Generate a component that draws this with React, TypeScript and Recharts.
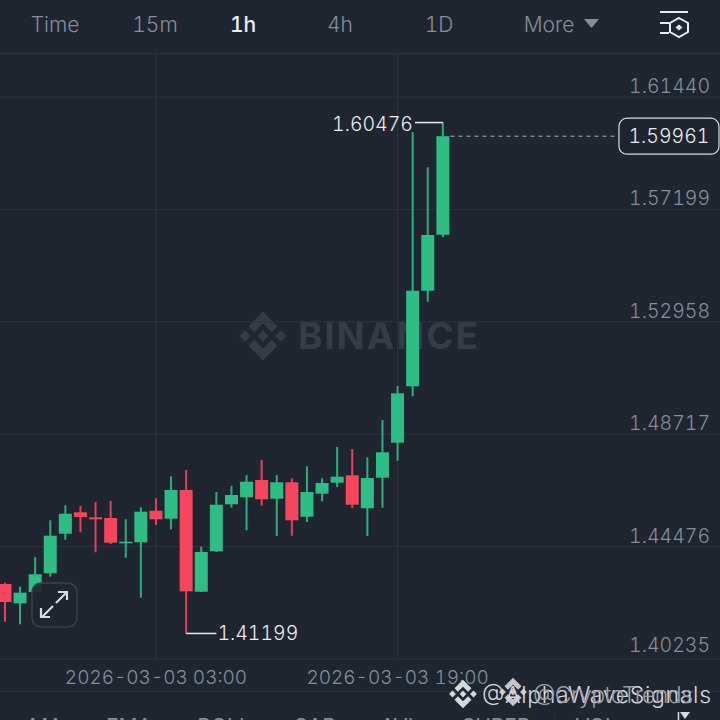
import { Bar, CartesianGrid, ComposedChart, ReferenceDot, ReferenceLine, XAxis, YAxis } from "recharts";

const times = [
  "2026-03-02 17:00", "2026-03-02 18:00", "2026-03-02 19:00", "2026-03-02 20:00", "2026-03-02 21:00",
  "2026-03-02 22:00", "2026-03-02 23:00", "2026-03-03 00:00", "2026-03-03 01:00", "2026-03-03 02:00",
  "2026-03-03 03:00", "2026-03-03 04:00", "2026-03-03 05:00", "2026-03-03 06:00", "2026-03-03 07:00",
  "2026-03-03 08:00", "2026-03-03 09:00", "2026-03-03 10:00", "2026-03-03 11:00", "2026-03-03 12:00",
  "2026-03-03 13:00", "2026-03-03 14:00", "2026-03-03 15:00", "2026-03-03 16:00", "2026-03-03 17:00",
  "2026-03-03 18:00", "2026-03-03 19:00", "2026-03-03 20:00", "2026-03-03 21:00", "2026-03-03 22:00",
];
const opens = [
  1.43065, 1.42337, 1.42763, 1.43469, 1.44963, 1.4577, 1.45581, 1.45555, 1.446, 1.44638,
  1.4583, 1.45529, 1.46612, 1.42774, 1.44299, 1.46072, 1.46336, 1.46989, 1.46283, 1.46902,
  1.45604, 1.46472, 1.46887, 1.47166, 1.45921, 1.47076, 1.48396, 1.50524, 1.54131, 1.56244,
];
const highs = [
  1.43114, 1.42963, 1.44072, 1.45468, 1.46034, 1.46008, 1.46159, 1.46197, 1.45506, 1.45959,
  1.46298, 1.47128, 1.47366, 1.44472, 1.46536, 1.46762, 1.47178, 1.47743, 1.47178, 1.47053,
  1.47506, 1.47053, 1.48234, 1.48159, 1.47845, 1.49253, 1.50536, 1.60119, 1.58787, 1.60476,
];
const lows = [
  1.41642, 1.41544, 1.42688, 1.4334, 1.44736, 1.45016, 1.44261, 1.44574, 1.44057, 1.42548,
  1.45291, 1.45129, 1.41199, 1.42763, 1.44272, 1.45944, 1.45091, 1.46019, 1.44876, 1.44887,
  1.45404, 1.46185, 1.46725, 1.45921, 1.44876, 1.45944, 1.47717, 1.50147, 1.53716, 1.56157,
];
const closes = [
  1.42386, 1.42737, 1.43431, 1.44887, 1.45717, 1.45593, 1.45506, 1.44623, 1.44661, 1.45793,
  1.45506, 1.46612, 1.42789, 1.44272, 1.46057, 1.46423, 1.46925, 1.46261, 1.46902, 1.45468,
  1.46536, 1.46876, 1.47113, 1.46057, 1.47064, 1.48034, 1.5026, 1.54131, 1.56233, 1.59961,
];
const priceTicks = [1.40235, 1.44476, 1.48717, 1.52958, 1.57199, 1.6144];
const timeTicks = [10, 26];
const lastPrice = 1.59961;
const highPrice = 1.60476;
const lowPrice = 1.41199;
const intervals = ["Time", "15m", "1h", "4h", "1D", "More"];
const indicators = ["MA", "EMA", "BOLL", "SAR", "AVL", "SUPER", "VOL"];

const rows = opens.map((open, i) => ({
  slot: i,
  open,
  high: highs[i],
  low: lows[i],
  close: closes[i],
  range: [lows[i], highs[i]],
}));

const font = "Inter, sans-serif";
const bg = "#1f2630";
const up = "#2ebd85";
const down = "#f6465d";
const muted = "#848e9c";
const grid = "#2e343f";

function Candle(props: any) {
  const { x, y, width, height, payload } = props;
  const color = payload.close >= payload.open ? up : down;
  const perUnit = Math.abs(height) / (payload.high - payload.low);
  const bodyTop = y + (payload.high - Math.max(payload.open, payload.close)) * perUnit;
  const bodyHeight = Math.abs(payload.close - payload.open) * perUnit;
  const mid = x + width / 2;
  return (
    <g>
      <rect x={mid - 1} y={y} width={2} height={Math.abs(height)} fill={color} fillOpacity={0.9} />
      <rect x={x} y={bodyTop} width={width} height={Math.max(bodyHeight, 1.5)} fill={color} />
    </g>
  );
}

function PriceTick({ x, y, payload }: any) {
  // the lowest label sits a little higher than the others
  const shift = payload.value === priceTicks[0] ? 3 : 0;
  return (
    <text x={x} y={y - 4 - shift} textAnchor="end" fontFamily={font} fontSize={19.5} fontWeight={300} fill={muted}>
      {payload.value.toFixed(5)}
    </text>
  );
}

function LastPriceBox({ cx, cy }: any) {
  return (
    <g>
      <rect x={cx - 50} y={cy - 18} width={100} height={36} rx={8} fill={bg} stroke="#d8dce2" strokeWidth={1.2} />
      <text x={cx} y={cy + 7} textAnchor="middle" fontFamily={font} fontSize={19.5} fontWeight={300} fill="#eaecef">
        {lastPrice.toFixed(5)}
      </text>
    </g>
  );
}

function Logo({ cx, cy, size, fill }: { cx: number; cy: number; size: number; fill: string }) {
  const k = size / 24;
  return (
    <g transform={`translate(${cx - size / 2} ${cy - size / 2}) scale(${k})`} fill={fill}>
      <polygon points="12,9.6 14.4,12 12,14.4 9.6,12" />
      <polygon points="4.6,9.6 7,12 4.6,14.4 2.2,12" />
      <polygon points="19.4,9.6 21.8,12 19.4,14.4 17,12" />
      <polygon points="12,2 18,8 15.6,10.4 12,6.8 8.4,10.4 6,8" />
      <polygon points="12,22 18,16 15.6,13.6 12,17.2 8.4,13.6 6,16" />
    </g>
  );
}

const intervalX = [55, 155, 243, 340, 439, 549];
const indicatorX = [46, 129, 224, 315, 400, 496, 596];

export default function App() {
  return (
    <div
      style={{
        position: "fixed",
        left: 0,
        top: 0,
        width: 720,
        height: 720,
        overflow: "hidden",
        background: bg,
        fontFamily: font,
        fontVariantNumeric: "tabular-nums",
      }}
    >
      <svg width={720} height={720} style={{ position: "absolute", left: 0, top: 0 }}>
        <Logo cx={263} cy={336} size={58} fill="#363c47" />
        <text x={298} y={349} fontFamily={font} fontWeight={700} fontSize={37} fill="#363c47" textLength={180} lengthAdjust="spacing">
          BINANCE
        </text>
      </svg>

      <div style={{ position: "absolute", left: 0, top: 0 }}>
        <ComposedChart width={720} height={720} data={rows} margin={{ top: 54, right: 0, bottom: 0, left: 0 }}>
          <CartesianGrid stroke={grid} syncWithTicks />
          <XAxis
            dataKey="slot"
            type="number"
            domain={[-0.331, 47.35]}
            allowDataOverflow
            ticks={timeTicks}
            tickFormatter={(v) => times[v]}
            height={61}
            axisLine={false}
            tickLine={false}
            tickMargin={6}
            tick={{ fontFamily: font, fontSize: 19, fontWeight: 300, fill: muted }}
          />
          <YAxis
            orientation="right"
            mirror
            domain={[1.40235, 1.63063]}
            allowDataOverflow
            ticks={priceTicks}
            axisLine={false}
            tickLine={false}
            tickMargin={4}
            tick={<PriceTick />}
          />
          <Bar dataKey="range" barSize={13} shape={<Candle />} isAnimationActive={false} />
          <ReferenceLine
            segment={[{ x: 29.5, y: lastPrice }, { x: 40.6, y: lastPrice }]}
            stroke="#aab0b9"
            strokeDasharray="4 4"
          />
          <ReferenceLine
            segment={[{ x: 27.15, y: highPrice }, { x: 29, y: highPrice }]}
            stroke="#eaecef"
            strokeWidth={1.5}
          />
          <ReferenceLine
            segment={[{ x: 12, y: lowPrice }, { x: 14, y: lowPrice }]}
            stroke="#eaecef"
            strokeWidth={1.5}
          />
          <ReferenceDot x={43.97} y={lastPrice} shape={<LastPriceBox />} ifOverflow="visible" />
          <ReferenceDot
            x={27.15}
            y={highPrice}
            ifOverflow="visible"
            shape={({ cx, cy }: any) => (
              <text x={cx - 2} y={cy + 8} textAnchor="end" fontFamily={font} fontSize={19.5} fontWeight={300} fill="#eaecef">
                {highPrice.toFixed(5)}
              </text>
            )}
          />
          <ReferenceDot
            x={14}
            y={lowPrice}
            ifOverflow="visible"
            shape={({ cx, cy }: any) => (
              <text x={cx + 1} y={cy + 7} textAnchor="start" fontFamily={font} fontSize={19.5} fontWeight={300} fill="#eaecef">
                {lowPrice.toFixed(5)}
              </text>
            )}
          />
        </ComposedChart>
      </div>

      <svg width={720} height={720} style={{ position: "absolute", left: 0, top: 0, pointerEvents: "none" }}>
        {/* header */}
        <rect x={0} y={0} width={720} height={53} fill={bg} />
        <line x1={0} x2={720} y1={53.5} y2={53.5} stroke={grid} />
        {intervals.map((label, i) => (
          <text
            key={label}
            x={intervalX[i]}
            y={32}
            textAnchor="middle"
            fontFamily={font}
            fontSize={21}
            fontWeight={label === "1h" ? 500 : 300}
            fill={label === "1h" ? "#eaecef" : muted}
          >
            {label}
          </text>
        ))}
        <polygon points="584,19 599,19 591.5,28" fill={muted} />
        <g stroke="#eaecef" strokeWidth={2} fill="none">
          <line x1={660} x2={688} y1={12} y2={12} />
          <line x1={660} x2={669} y1={23} y2={23} />
          <line x1={660} x2={669} y1={33} y2={33} />
          <polygon points="679,18 688,23 688,32 679,37 670,32 670,23" />
        </g>
        <polygon points="679,24.5 682.5,27.5 679,30.5 675.5,27.5" fill="#eaecef" />

        {/* expand button */}
        <rect x={32} y={583} width={45} height={44} rx={9} fill={bg} fillOpacity={0.92} stroke="#3b414c" strokeWidth={1.5} />
        <g stroke="#d8dce2" strokeWidth={2.2} fill="none">
          <line x1={56} y1={603} x2={67} y2={592} />
          <line x1={42} y1={617} x2={53} y2={606} />
          <polyline points="58,592 67,592 67,600" />
          <polyline points="41,608 41,617 50,617" />
        </g>

        {/* bottom bar */}
        <line x1={0} x2={720} y1={691.5} y2={691.5} stroke={grid} />
        {indicators.map((label, i) => (
          <text key={label} x={indicatorX[i]} y={734} textAnchor="middle" fontFamily={font} fontSize={21} fill={muted}>
            {label}
          </text>
        ))}
        <line x1={555} x2={555} y1={713} y2={720} stroke={grid} />
        <line x1={678.5} x2={678.5} y1={712} y2={720} stroke="#d8dce2" strokeWidth={1.5} />
        <polygon points="680,712 690,712 685,719" fill="#d8dce2" />

        {/* reposted watermarks */}
        <Logo cx={463} cy={694} size={34} fill="#d5d8dd" />
        <Logo cx={513} cy={692} size={34} fill="#c3c7cd" />
        <text x={482} y={703} fontFamily={font} fontSize={23} fontWeight={300} fill="#d5d8dd" textLength={229} lengthAdjust="spacing">
          @AlphaWaveSignals
        </text>
        <text x={533} y={703} fontFamily={font} fontSize={23} fontWeight={300} fill="#9aa0a9" textLength={160} lengthAdjust="spacing">
          @CryptoTrends
        </text>
      </svg>
    </div>
  );
}
